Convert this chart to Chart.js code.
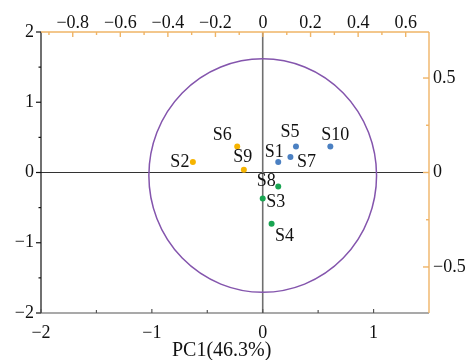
<!DOCTYPE html>
<html><head><meta charset="utf-8">
<script src="https://cdn.jsdelivr.net/npm/chart.js@4"></script>
<style>html,body{margin:0;padding:0;background:#fff}#wrap{width:469px;height:360px;position:relative}</style>
</head><body><div id="wrap"><canvas id="c"></canvas></div>
<script>
// ---- data ----
const blueNames = ['S1', 'S5', 'S7', 'S10'];
const blueX = [0.14, 0.30, 0.25, 0.61];
const blueY = [0.15, 0.37, 0.22, 0.37];
const yellowNames = ['S2', 'S6', 'S9'];
const yellowX = [-0.63, -0.23, -0.17];
const yellowY = [0.15, 0.37, 0.04];
const greenNames = ['S3', 'S4', 'S8'];
const greenX = [0.00, 0.08, 0.14];
const greenY = [-0.37, -0.73, -0.20];

const bottomTicks = [-2, -1.5, -1, -0.5, 0, 0.5, 1];
const bottomLabels = ['\u22122', '', '\u22121', '', '0', '', '1'];
const leftTicks = [-2, -1.5, -1, -0.5, 0, 0.5, 1, 1.5, 2];
const leftLabels = ['\u22122', '', '\u22121', '', '0', '', '1', '', '2'];
const topTicks = [-0.9, -0.8, -0.7, -0.6, -0.5, -0.4, -0.3, -0.2, -0.1, 0, 0.1, 0.2, 0.3, 0.4, 0.5, 0.6];
const topLabels = ['', '\u22120.8', '', '\u22120.6', '', '\u22120.4', '', '\u22120.2', '', '0', '', '0.2', '', '0.4', '', '0.6'];
const rightTicks = [-0.5, -0.25, 0, 0.25, 0.5];
const rightLabels = ['\u22120.5', '', '0', '', '0.5'];
const xTitle = 'PC1(46.3%)';

// circle (in bottom/left data units)
const circleCenter = [0, -0.043];
const circleRadii = [1.027, 1.662];

// ---- styles ----
const FONT = '"Liberation Serif", "Times New Roman", serif';
const ORANGE = '#efb466';
const labelOffsets = {
  S1: [-4, -10], S5: [-6, -14], S7: [16, 5], S10: [5, -11],
  S2: [-13, 0], S6: [-15, -11], S9: [-1, -12],
  S3: [13, 4], S4: [13, 12], S8: [-12, -5]
};

function pts(xs, ys) { return xs.map((x, i) => ({ x: x, y: ys[i] })); }

const fixedSize = (w, h) => (s) => {
  if (w !== null) s.width = w;
  if (h !== null) s.height = h;
  s.paddingLeft = 0; s.paddingRight = 0; s.paddingTop = 0; s.paddingBottom = 0;
};
const setTicks = (vals) => (s) => { s.ticks = vals.map(v => ({ value: v })); };

const tickStyle = (labels, pad) => ({
  autoSkip: false, maxRotation: 0, minRotation: 0, padding: pad,
  color: '#111', font: { family: FONT, size: 18 },
  callback: (v, i) => labels[i]
});
const noGrid = { display: false, drawTicks: false, tickLength: 0 };

const decor = {
  id: 'decor',
  beforeDatasetsDraw(chart) {
    const { ctx, chartArea: a, scales } = chart;
    const x = scales.x, y = scales.y;
    ctx.save();
    ctx.strokeStyle = '#333'; ctx.lineWidth = 1.2;
    ctx.beginPath(); ctx.moveTo(a.left, y.getPixelForValue(0)); ctx.lineTo(a.right, y.getPixelForValue(0)); ctx.stroke();
    ctx.strokeStyle = '#6f6f6f'; ctx.lineWidth = 1.6;
    ctx.beginPath(); ctx.moveTo(x.getPixelForValue(0), a.top); ctx.lineTo(x.getPixelForValue(0), a.bottom); ctx.stroke();
    const cx = x.getPixelForValue(circleCenter[0]);
    const cy = y.getPixelForValue(circleCenter[1]);
    const rx = Math.abs(x.getPixelForValue(circleCenter[0] + circleRadii[0]) - cx);
    const ry = Math.abs(y.getPixelForValue(circleCenter[1] + circleRadii[1]) - cy);
    ctx.strokeStyle = '#8455ad'; ctx.lineWidth = 1.5;
    ctx.beginPath(); ctx.ellipse(cx, cy, rx, ry, 0, 0, Math.PI * 2); ctx.stroke();
    ctx.restore();
  },
  afterDatasetsDraw(chart) {
    const { ctx } = chart;
    ctx.save();
    ctx.fillStyle = '#111';
    ctx.font = '18px ' + FONT;
    ctx.textAlign = 'center'; ctx.textBaseline = 'middle';
    chart.data.datasets.forEach((ds, di) => {
      const meta = chart.getDatasetMeta(di);
      meta.data.forEach((el, i) => {
        const name = ds.names[i];
        const o = labelOffsets[name] || [0, -10];
        ctx.fillText(name, el.x + o[0], el.y + o[1]);
      });
    });
    ctx.restore();
  },
  afterDraw(chart) {
    const { ctx, chartArea: a, scales } = chart;
    ctx.save();
    ctx.lineCap = 'butt';
    ctx.strokeStyle = '#111'; ctx.lineWidth = 1.2;
    ctx.beginPath(); ctx.moveTo(a.left, a.top); ctx.lineTo(a.left, a.bottom); ctx.stroke();
    scales.y.ticks.forEach((t, i) => {
      const p = scales.y.getPixelForValue(t.value);
      const len = leftLabels[i] ? 5 : 2.5;
      ctx.beginPath(); ctx.moveTo(a.left - len, p); ctx.lineTo(a.left, p); ctx.stroke();
    });
    ctx.strokeStyle = '#555';
    ctx.beginPath(); ctx.moveTo(a.left, a.bottom); ctx.lineTo(a.right, a.bottom); ctx.stroke();
    scales.x.ticks.forEach((t, i) => {
      const p = scales.x.getPixelForValue(t.value);
      const len = bottomLabels[i] ? 4 : 3;
      ctx.beginPath(); ctx.moveTo(p, a.bottom); ctx.lineTo(p, a.bottom - len); ctx.stroke();
    });
    ctx.strokeStyle = ORANGE; ctx.lineWidth = 1.4;
    ctx.beginPath(); ctx.moveTo(a.left, a.top); ctx.lineTo(a.right, a.top); ctx.stroke();
    scales.x2.ticks.forEach((t, i) => {
      const p = scales.x2.getPixelForValue(t.value);
      const len = topLabels[i] ? 5 : 3;
      ctx.beginPath(); ctx.moveTo(p, a.top); ctx.lineTo(p, a.top + len); ctx.stroke();
    });
    ctx.beginPath(); ctx.moveTo(a.right, a.top); ctx.lineTo(a.right, a.bottom); ctx.stroke();
    scales.y2.ticks.forEach((t, i) => {
      const p = scales.y2.getPixelForValue(t.value);
      const len = rightLabels[i] ? 6 : 3;
      ctx.beginPath(); ctx.moveTo(a.right, p); ctx.lineTo(a.right - len, p); ctx.stroke();
    });
    ctx.fillStyle = '#111';
    ctx.font = '20px ' + FONT;
    ctx.textAlign = 'center'; ctx.textBaseline = 'alphabetic';
    ctx.fillText(xTitle, scales.x.getPixelForValue(-0.37), 355.5);
    ctx.restore();
  }
};

new Chart(document.getElementById('c'), {
  type: 'scatter',
  data: {
    datasets: [
      { names: blueNames, data: pts(blueX, blueY), backgroundColor: '#4b80c2', pointRadius: 3, borderWidth: 0, xAxisID: 'x', yAxisID: 'y' },
      { names: yellowNames, data: pts(yellowX, yellowY), backgroundColor: '#f6b400', pointRadius: 3, borderWidth: 0, xAxisID: 'x', yAxisID: 'y' },
      { names: greenNames, data: pts(greenX, greenY), backgroundColor: '#19a552', pointRadius: 3, borderWidth: 0, xAxisID: 'x', yAxisID: 'y' }
    ]
  },
  options: {
    responsive: true, maintainAspectRatio: false, animation: false,
    layout: { padding: 0 },
    plugins: { legend: { display: false }, tooltip: { enabled: false } },
    scales: {
      x: {
        type: 'linear', position: 'bottom', min: -2, max: 1.5,
        grid: noGrid, border: { display: false },
        afterBuildTicks: setTicks(bottomTicks), afterFit: fixedSize(null, 47),
        ticks: tickStyle(bottomLabels, 9)
      },
      y: {
        type: 'linear', position: 'left', min: -2, max: 2,
        grid: noGrid, border: { display: false },
        afterBuildTicks: setTicks(leftTicks), afterFit: fixedSize(41, null),
        ticks: tickStyle(leftLabels, 7)
      },
      x2: {
        type: 'linear', position: 'top', min: -0.9335, max: 0.698,
        grid: noGrid, border: { display: false },
        afterBuildTicks: setTicks(topTicks), afterFit: fixedSize(null, 32),
        ticks: tickStyle(topLabels, -2)
      },
      y2: {
        type: 'linear', position: 'right', min: -0.7436, max: 0.7436,
        grid: noGrid, border: { display: false },
        afterBuildTicks: setTicks(rightTicks), afterFit: fixedSize(40, null),
        ticks: tickStyle(rightLabels, 4)
      }
    }
  },
  plugins: [decor]
});
</script>
</body></html>
